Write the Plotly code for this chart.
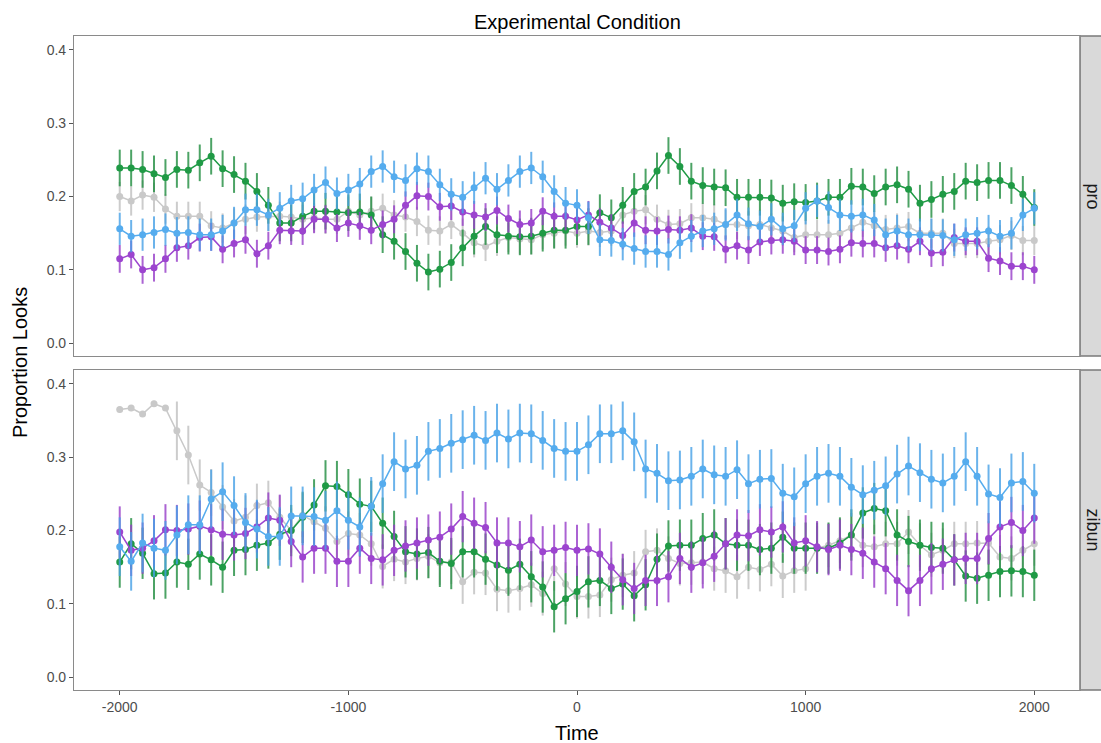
import plotly.graph_objects as go

time = list(range(-2000, 2001, 50))
x_tick_vals = [-2000, -1000, 0, 1000, 2000]
x_tick_text = ["-2000", "-1000", "0", "1000", "2000"]
y_tick_vals = [0, 0.1, 0.2, 0.3, 0.4]
y_tick_text = ["0.0", "0.1", "0.2", "0.3", "0.4"]

# ---- panel "pro" ----
pro_green = [0.239,0.239,0.237,0.231,0.226,0.237,0.236,0.246,0.255,0.238,0.230,0.221,0.207,0.188,0.164,0.164,0.173,0.180,0.180,0.179,0.178,
             0.179,0.175,0.148,0.139,0.125,0.109,0.097,0.101,0.110,0.130,0.146,0.159,0.148,0.146,0.145,0.146,0.150,0.154,0.154,0.159,0.159,
             0.178,0.171,0.188,0.207,0.213,0.235,0.256,0.241,0.221,0.215,0.213,0.212,0.199,0.199,0.199,0.198,0.191,0.193,0.192,0.194,0.199,
             0.199,0.214,0.213,0.204,0.213,0.216,0.210,0.191,0.196,0.203,0.207,0.221,0.219,0.222,0.222,0.215,0.203,0.185]
pro_blue = [0.156,0.146,0.148,0.151,0.155,0.150,0.151,0.148,0.148,0.153,0.164,0.182,0.182,0.175,0.184,0.194,0.197,0.209,0.219,0.204,0.209,
            0.217,0.234,0.241,0.227,0.222,0.238,0.234,0.216,0.203,0.199,0.212,0.225,0.210,0.222,0.234,0.239,0.227,0.207,0.191,0.188,0.171,
            0.141,0.140,0.135,0.129,0.125,0.125,0.121,0.137,0.146,0.153,0.156,0.162,0.175,0.163,0.159,0.169,0.156,0.160,0.184,0.194,0.185,
            0.175,0.173,0.175,0.168,0.148,0.153,0.148,0.148,0.148,0.147,0.141,0.148,0.150,0.153,0.146,0.150,0.175,0.184]
pro_purple = [0.115,0.121,0.100,0.103,0.115,0.130,0.133,0.144,0.145,0.128,0.136,0.141,0.122,0.133,0.154,0.153,0.153,0.169,0.169,0.157,0.164,
              0.160,0.154,0.162,0.169,0.188,0.201,0.200,0.186,0.187,0.179,0.175,0.172,0.181,0.170,0.162,0.164,0.180,0.173,0.173,0.168,0.175,
              0.165,0.157,0.147,0.164,0.154,0.153,0.155,0.154,0.157,0.146,0.145,0.128,0.133,0.127,0.138,0.140,0.141,0.139,0.127,0.127,0.125,
              0.128,0.137,0.136,0.136,0.130,0.133,0.128,0.139,0.123,0.124,0.144,0.139,0.139,0.116,0.112,0.105,0.105,0.100]
pro_grey = [0.200,0.194,0.202,0.199,0.183,0.173,0.173,0.173,0.160,0.157,0.164,0.169,0.172,0.173,0.173,0.172,0.169,0.171,0.169,0.169,0.180,
            0.175,0.180,0.184,0.175,0.172,0.166,0.154,0.153,0.162,0.150,0.137,0.132,0.139,0.144,0.142,0.141,0.148,0.150,0.153,0.150,0.153,
            0.151,0.153,0.175,0.180,0.182,0.169,0.162,0.163,0.171,0.171,0.169,0.162,0.162,0.160,0.162,0.157,0.153,0.144,0.148,0.148,0.148,
            0.150,0.157,0.165,0.160,0.155,0.157,0.159,0.150,0.150,0.150,0.136,0.136,0.136,0.139,0.141,0.147,0.140,0.140]

# ---- panel "zibun" ----
zib_green = [0.157,0.182,0.169,0.141,0.142,0.157,0.154,0.168,0.160,0.150,0.173,0.174,0.180,0.183,0.195,0.200,0.218,0.235,0.261,0.260,0.249,
             0.236,0.233,0.210,0.192,0.171,0.168,0.170,0.158,0.155,0.171,0.171,0.161,0.153,0.146,0.154,0.137,0.123,0.096,0.107,0.117,0.130,
             0.132,0.121,0.127,0.111,0.126,0.161,0.179,0.180,0.180,0.189,0.194,0.182,0.180,0.180,0.174,0.176,0.191,0.176,0.176,0.176,0.176,
             0.183,0.194,0.224,0.230,0.227,0.194,0.185,0.180,0.177,0.176,0.160,0.138,0.135,0.139,0.144,0.145,0.144,0.139]
zib_blue = [0.178,0.158,0.183,0.176,0.173,0.194,0.208,0.208,0.243,0.253,0.234,0.211,0.202,0.192,0.192,0.220,0.220,0.219,0.214,0.227,0.214,
            0.205,0.233,0.264,0.294,0.284,0.289,0.308,0.312,0.319,0.324,0.330,0.323,0.333,0.325,0.333,0.332,0.323,0.312,0.308,0.308,0.317,
            0.332,0.332,0.336,0.321,0.284,0.278,0.268,0.269,0.274,0.284,0.276,0.274,0.283,0.264,0.270,0.271,0.251,0.246,0.264,0.274,0.278,
            0.274,0.259,0.249,0.255,0.261,0.277,0.288,0.279,0.270,0.265,0.274,0.294,0.274,0.250,0.245,0.265,0.267,0.251]
zib_purple = [0.198,0.173,0.176,0.186,0.201,0.200,0.202,0.206,0.201,0.195,0.194,0.196,0.205,0.217,0.214,0.185,0.164,0.176,0.176,0.158,0.158,
              0.176,0.162,0.160,0.173,0.179,0.183,0.187,0.191,0.202,0.219,0.210,0.204,0.183,0.183,0.178,0.187,0.171,0.173,0.177,0.173,0.175,
              0.168,0.150,0.133,0.121,0.132,0.132,0.137,0.162,0.150,0.156,0.165,0.182,0.194,0.193,0.201,0.198,0.205,0.183,0.186,0.178,0.174,
              0.180,0.174,0.169,0.157,0.148,0.132,0.118,0.132,0.148,0.154,0.160,0.162,0.162,0.189,0.205,0.211,0.200,0.217]
zib_grey = [0.365,0.367,0.359,0.373,0.367,0.336,0.303,0.262,0.252,0.232,0.213,0.218,0.234,0.238,0.218,0.200,0.221,0.212,0.203,0.185,0.196,
            0.194,0.182,0.151,0.161,0.157,0.162,0.165,0.156,0.157,0.130,0.143,0.142,0.120,0.118,0.121,0.126,0.114,0.148,0.127,0.110,0.110,
            0.112,0.133,0.139,0.142,0.171,0.173,0.162,0.155,0.156,0.157,0.148,0.145,0.137,0.150,0.147,0.154,0.138,0.145,0.148,0.176,0.180,
            0.186,0.194,0.180,0.178,0.182,0.182,0.198,0.180,0.167,0.173,0.182,0.182,0.183,0.183,0.164,0.162,0.173,0.182]

# error-bar half widths
pro_err = {"green": 0.025, "blue": 0.022, "purple": 0.019, "grey": 0.02}
zib_err = {"green": 0.035, "blue": 0.04, "purple": 0.035}
zib_grey_err = [0.004,0.004,0.004,0.004,0.004,0.04,0.04,0.035,0.032,0.03,0.03,0.03,0.03,0.03,0.03,0.03,0.03,0.03,0.03,0.03,0.03,
                0.03,0.03,0.03,0.03,0.03,0.03,0.03,0.03,0.03,0.03,0.03,0.03,0.03,0.03,0.03,0.03,0.03,0.03,0.03,0.03,0.03,
                0.03,0.03,0.03,0.03,0.03,0.03,0.03,0.03,0.03,0.03,0.03,0.03,0.03,0.03,0.03,0.03,0.03,0.03,0.03,0.03,0.03,
                0.03,0.03,0.03,0.03,0.03,0.03,0.03,0.03,0.03,0.03,0.03,0.03,0.03,0.03,0.03,0.03,0.03,0.03,0.03,0.03]

colors = {"green": "#1f9a45", "blue": "#55acee", "purple": "#9c44cf", "grey": "#c9c9c9"}
err_colors = {"green": "rgba(31,140,62,0.8)", "blue": "rgba(70,160,230,0.8)",
              "purple": "rgba(150,60,200,0.8)", "grey": "rgba(195,195,195,0.85)"}

FONT = "Liberation Sans, Arial, Helvetica, sans-serif"

fig = go.Figure()

def add(series, name, err, xa, ya):
    errd = dict(type="data", array=err if isinstance(err, list) else [err] * len(series),
                visible=True, color=err_colors[name], thickness=2, width=0)
    fig.add_trace(go.Scatter(x=time, y=series, mode="lines+markers", xaxis=xa, yaxis=ya,
                             line=dict(color=colors[name], width=1.5),
                             marker=dict(color=colors[name], size=7),
                             error_y=errd, showlegend=False, name=name))

order = ["grey", "green", "purple", "blue"]
pro = {"green": pro_green, "blue": pro_blue, "purple": pro_purple, "grey": pro_grey}
zib = {"green": zib_green, "blue": zib_blue, "purple": zib_purple, "grey": zib_grey}
for n in order:
    add(pro[n], n, pro_err[n], "x", "y")
for n in order:
    add(zib[n], n, zib_grey_err if n == "grey" else zib_err[n], "x2", "y2")

axis_common = dict(showgrid=False, zeroline=False, showline=True, mirror=True, automargin=False,
                   linecolor="#8a8a8a", linewidth=1.2, ticks="outside", ticklen=4,
                   tickcolor="#555555", tickfont=dict(family=FONT, size=14, color="#4d4d4d"))
yrange = [-0.0175, 0.419]
xrange = [-2200, 2200]
top_dom = [(690 - 356) / 654, 1.0]
bot_dom = [0.0, (690 - 370) / 654]

fig.update_layout(
    width=1101, height=743,
    margin=dict(l=74, r=21, t=36, b=53),
    paper_bgcolor="white", plot_bgcolor="white",
    xaxis=dict(axis_common, range=xrange, anchor="y", domain=[0, 1], showticklabels=False, ticks=""),
    yaxis=dict(axis_common, range=yrange, domain=top_dom, anchor="x",
               tickvals=y_tick_vals, ticktext=y_tick_text),
    xaxis2=dict(axis_common, range=xrange, anchor="y2", domain=[0, 1], matches="x",
                tickvals=x_tick_vals, ticktext=x_tick_text),
    yaxis2=dict(axis_common, range=yrange, domain=bot_dom, anchor="x2",
                tickvals=y_tick_vals, ticktext=y_tick_text),
)

# facet strips on the right
sw = 21 / 1006
for dom, label in [(top_dom, "pro"), (bot_dom, "zibun")]:
    fig.add_shape(type="rect", xref="paper", yref="paper", x0=1, x1=1 + sw + 0.01, y0=dom[0], y1=dom[1],
                  fillcolor="#d9d9d9", line=dict(color="#7a7a7a", width=1.5), layer="below")
    fig.add_annotation(text=label, xref="paper", yref="paper", x=1 + sw / 2, xshift=2,
                       y=(dom[0] + dom[1]) / 2, xanchor="center", yanchor="middle",
                       showarrow=False, textangle=90, font=dict(family=FONT, size=18, color="#1a1a1a"))

fig.add_annotation(text="Experimental Condition", xref="paper", yref="paper", x=0.5, y=1,
                   xanchor="center", yanchor="bottom", yshift=1, showarrow=False,
                   font=dict(family=FONT, size=20, color="black"))
fig.add_annotation(text="Proportion Looks", xref="paper", yref="paper", x=0, xshift=-54,
                   y=0.5, xanchor="center", yanchor="middle", showarrow=False, textangle=-90,
                   font=dict(family=FONT, size=20, color="black"))
fig.add_annotation(text="Time", xref="paper", yref="paper", x=0.5, y=0,
                   xanchor="center", yanchor="middle",
                   yshift=-43, showarrow=False,
                   font=dict(family=FONT, size=20, color="black"))

fig.write_html("out.html", config={"displayModeBar": False},
               post_script="document.body.style.margin='0';")
